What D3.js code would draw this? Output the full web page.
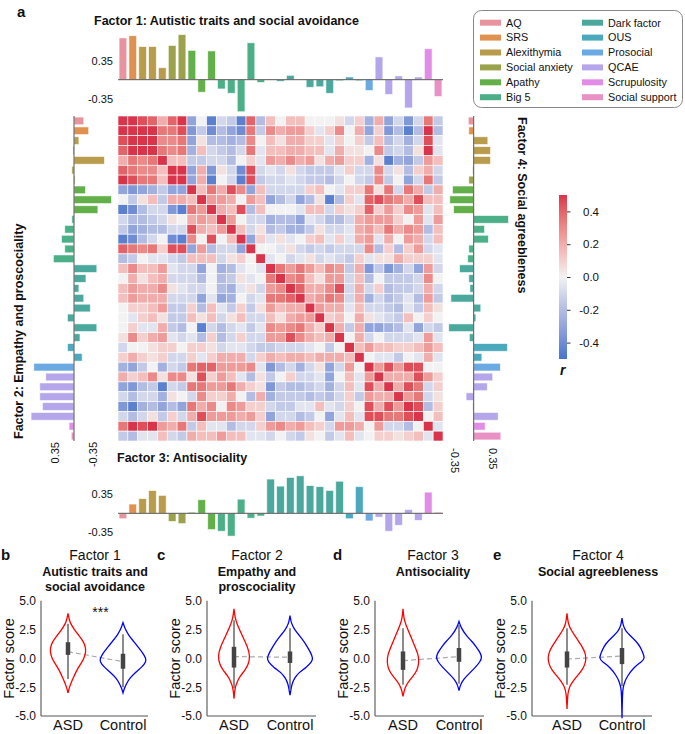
<!DOCTYPE html>
<html><head><meta charset="utf-8">
<script src="https://cdn.jsdelivr.net/npm/d3@7"></script>
<style>
body{margin:0;background:#fff}
svg{display:block}
text{font-family:"Liberation Sans",Arial,Helvetica,sans-serif;fill:#111}
</style>
</head><body>
<svg id="c" width="685" height="734"></svg>
<script>
// ---------------- DATA ----------------
const groups = ["AQ","SRS","Alexithymia","Social anxiety","Apathy","Big 5","Dark factor","OUS","Prosocial","QCAE","Scrupulosity","Social support"];
const groupSizes = [1,1,3,2,3,5,8,2,1,5,1,1];
const groupColors = ["#e8949f","#e0904f","#b89c4c","#9ca24b","#63b04a","#4baf88","#4aa99c","#4aa9bd","#6aa9e1","#b5a5ea","#e18ce6","#e991c4"];

const factor1 = [0.77,0.81,0.61,0.61,0.22,0.63,0.83,0.54,-0.23,0.53,-0.17,-0.25,-0.59,0.68,-0.05,0.01,-0.03,0.08,0.0,-0.14,-0.13,-0.25,-0.02,0.05,-0.02,-0.20,0.42,-0.27,0.07,-0.52,0.05,0.57,-0.31];
const factor2 = [-0.18,-0.27,-0.09,0.02,-0.56,0.04,-0.02,-0.21,-0.69,-0.44,0.04,0.17,0.23,0.17,0.38,-0.42,-0.22,-0.09,-0.18,-0.30,0.12,-0.42,-0.11,0.12,-0.15,0.74,0.52,0.63,0.63,0.58,0.79,0.09,0.05];
const factor3 = [-0.10,0.17,0.27,0.42,0.33,-0.15,-0.19,0.02,0.25,-0.30,-0.33,-0.42,0.26,-0.09,-0.05,0.63,0.50,0.66,0.69,0.51,0.49,0.42,0.59,-0.10,0.49,-0.14,-0.07,-0.33,-0.22,0.07,-0.13,0.39,0.02];
const factor4 = [-0.10,-0.09,0.26,0.31,0.31,-0.02,-0.09,-0.39,-0.44,-0.37,0.64,0.20,0.27,-0.09,-0.11,-0.26,-0.09,-0.07,-0.42,0.13,0.04,-0.46,-0.08,0.62,0.15,0.49,0.35,0.25,-0.14,-0.02,0.45,0.21,0.50];

// upper triangle of the correlation matrix, row i holds columns i+1..33
const corrUpper = [
 [0.5,0.45,0.4,0.2,0.4,0.5,-0.3,0,-0.45,-0.1,-0.15,-0.45,0.4,-0.2,0.15,0,0.15,0.15,0,0,0,0.05,-0.1,0.1,-0.25,0.2,-0.3,-0.1,-0.35,-0.1,0.35,-0.15],
 [0.5,0.5,0.35,0.35,0.45,-0.35,-0.15,-0.4,-0.2,-0.3,-0.4,0.35,-0.15,0.3,0.2,0.25,0.25,0.1,-0.05,0.1,0.3,0,0.2,-0.3,0.1,-0.35,-0.2,-0.45,-0.2,0.5,-0.2],
 [0.5,0.3,0.3,0.35,-0.3,0.05,-0.2,-0.2,-0.25,-0.2,0.3,0,0.15,0.05,0.2,0.2,0.1,0.1,-0.05,0.1,0,0.1,-0.15,0.15,-0.2,-0.1,-0.25,-0.1,0.45,-0.05],
 [0.35,0.3,0.35,-0.25,0.15,-0.1,-0.15,-0.2,-0.1,0.35,-0.05,0.15,0.15,0.2,0.2,0.15,0.15,-0.05,0.2,0.05,0.05,0,0.3,-0.15,-0.1,-0.2,0.05,0.5,-0.05],
 [0.15,0.15,-0.15,-0.15,-0.1,-0.1,-0.2,0,0.1,-0.05,0.25,0.2,0.3,0.2,0.25,0.05,0.2,0.25,0.1,0.1,-0.25,0.05,-0.45,-0.25,-0.3,-0.15,0.25,0.15],
 [0.5,-0.3,0.2,-0.35,0.05,-0.1,-0.4,0.45,-0.1,-0.05,-0.1,0.05,-0.1,-0.15,-0.15,-0.15,-0.05,0.1,-0.1,-0.1,0.3,-0.1,0.05,-0.2,0.1,0.2,-0.1],
 [-0.3,0.2,-0.45,0,-0.1,-0.45,0.45,-0.15,-0.1,-0.1,-0.05,-0.1,-0.15,-0.15,-0.2,-0.1,0,-0.1,-0.15,0.3,-0.15,0,-0.3,-0.1,0.35,-0.15],
 [0.15,0.35,0.2,0.45,0.3,-0.3,0.15,-0.1,-0.1,-0.1,-0.1,0.1,0.15,0,-0.05,0.1,0.1,0.35,0.05,0.35,-0.1,0.35,0.2,-0.15,0.2],
 [0.25,0.25,0.2,0,0.25,0.15,-0.3,-0.2,-0.1,-0.3,-0.2,0.05,-0.45,-0.2,0.1,-0.05,0.4,0.45,0.35,0.3,0.2,0.45,0.15,0.15],
 [0.2,0.15,0.45,-0.2,0.15,0,0,0,-0.05,0.15,0.15,-0.1,0.1,0.05,0.1,0.4,0.1,0.25,0.1,0.3,0.25,-0.05,0.15],
 [0.25,0,-0.1,-0.1,-0.25,-0.2,-0.2,-0.3,-0.05,-0.1,-0.2,-0.2,-0.1,0.2,0.25,0.25,0.25,0.1,0,0.25,-0.05,0.25],
 [0.15,-0.1,0.05,-0.2,-0.15,-0.25,-0.25,-0.15,0.05,-0.1,-0.1,-0.05,0.2,0.25,0.15,0.35,0.2,0.3,0.25,-0.2,0.15],
 [-0.3,0.1,-0.05,0.05,-0.05,0,0.1,0.15,-0.05,0.1,-0.05,0.2,0.25,-0.05,0.2,0,0.25,0.2,-0.1,0.15],
 [0,0,-0.05,0.05,-0.1,-0.15,-0.1,-0.15,-0.1,-0.1,-0.1,0.3,-0.2,0.1,-0.2,0.1,0.25,-0.1,-0.05],
 [-0.05,0,-0.1,-0.05,0.05,-0.1,-0.05,-0.1,-0.15,0.1,-0.05,0.05,0.05,0.2,0.1,0.1,0.1,-0.05],
 [0.35,0.25,0.35,0.25,0.15,0.3,0.25,-0.15,0.2,-0.35,-0.15,-0.35,-0.25,-0.1,-0.3,0.25,-0.1],
 [0.3,0.35,0.15,0.05,0.25,0.25,-0.1,0.15,-0.2,0,-0.15,-0.15,-0.15,-0.1,0.3,0],
 [0.4,0.2,0.2,0.3,0.45,-0.1,0.2,-0.1,0.1,-0.2,-0.15,-0.15,-0.1,0.2,-0.1],
 [0.2,0.25,0.35,0.3,-0.1,0.2,-0.25,-0.1,-0.2,-0.15,-0.05,-0.2,0.25,-0.15],
 [0.25,0.2,0.2,-0.05,0.15,-0.1,-0.1,-0.15,-0.2,-0.05,-0.15,0.15,0.05],
 [0.1,0.15,0,0.2,0.05,-0.05,-0.1,-0.15,0.15,0,0.1,0],
 [0.2,-0.15,0.2,-0.3,-0.3,-0.25,-0.2,-0.05,-0.3,-0.1,-0.15],
 [0,0.2,-0.1,0,-0.1,-0.1,-0.1,-0.05,0.25,-0.05],
 [0.15,0.25,0.15,0.15,0.1,0.1,0.15,0.25,0.15],
 [0,-0.05,-0.05,-0.15,0,-0.05,0.2,-0.05],
 [0.25,0.45,0.25,0.45,0.45,0,0],
 [0.2,0.2,0.2,0.45,0.25,0.1],
 [0.2,0.45,0.35,-0.1,0.1],
 [0.25,0.35,-0.1,0.05],
 [0.45,-0.2,0.1],
 [0,0.15],
 [-0.05]
];
const colorbarTicks = [0.4,0.2,0,-0.2,-0.4];
const barTicks = [0.35,-0.35];

// violin panels
const violinTitles = ["Factor 1","Factor 2","Factor 3","Factor 4"];
const violinSubtitles = [["Autistic traits and","social avoidance"],["Empathy and","proscociality"],["Antisociality"],["Social agreebleness"]];
const violinLetters = ["b","c","d","e"];
const violinSig = ["***","","",""];
const groupsVio = ["ASD","Control"];
const yTicksVio = [5.0,2.5,0.0,-2.5,-5.0];
// density profiles: [factor score, relative density]
const densityASD = [
 [[3.9,0],[3.3,0.08],[3.0,0.15],[2.5,0.35],[2.0,0.6],[1.5,0.85],[1.0,0.97],[0.6,1.0],[0.0,0.9],[-0.5,0.7],[-1.0,0.5],[-1.5,0.35],[-2.0,0.2],[-2.5,0.08],[-3.0,0]],
 [[4.3,0],[3.5,0.07],[3.0,0.18],[2.0,0.5],[1.0,0.85],[0.2,1.0],[-0.5,0.9],[-1.0,0.7],[-1.5,0.4],[-2.0,0.2],[-2.5,0.08],[-3.0,0.03],[-3.5,0]],
 [[4.3,0],[3.5,0.05],[3.0,0.15],[2.0,0.45],[1.0,0.75],[0.3,0.95],[-0.3,1.0],[-1.0,0.9],[-1.6,0.6],[-2.0,0.35],[-2.5,0.12],[-3.3,0]],
 [[3.9,0],[3.0,0.06],[2.5,0.2],[2.0,0.4],[1.5,0.6],[1.0,0.8],[0.5,0.95],[0.0,1.0],[-0.5,0.95],[-1.0,0.8],[-1.5,0.55],[-2.0,0.3],[-2.5,0.12],[-3.0,0.04],[-4.4,0]]
];
const densityControl = [
 [[3.1,0],[2.5,0.1],[2.0,0.25],[1.5,0.45],[1.0,0.65],[0.5,0.85],[0.0,1.0],[-0.3,1.0],[-0.7,0.85],[-1.2,0.55],[-1.7,0.3],[-2.2,0.15],[-2.6,0.06],[-3.0,0]],
 [[3.7,0],[3.0,0.06],[2.5,0.2],[2.0,0.4],[1.5,0.6],[1.0,0.75],[0.5,0.9],[0.0,1.0],[-0.3,0.95],[-0.8,0.7],[-1.2,0.4],[-1.7,0.2],[-2.2,0.08],[-3.2,0]],
 [[3.2,0],[2.7,0.08],[2.0,0.3],[1.5,0.55],[1.0,0.75],[0.5,0.92],[0.1,1.0],[-0.3,0.92],[-0.8,0.7],[-1.3,0.45],[-1.8,0.2],[-2.3,0.06],[-2.8,0]],
 [[3.5,0],[2.8,0.05],[2.3,0.18],[2.0,0.35],[1.5,0.6],[1.0,0.8],[0.5,0.9],[0.0,1.0],[-0.3,0.85],[-0.8,0.5],[-1.5,0.25],[-2.0,0.12],[-2.5,0.05],[-3.0,0.02],[-5.2,0]]
];
const peakASD = [0.78,0.70,0.70,0.83];
const peakControl = [1,1,1,1];
// box stats: [lower whisker, q1, q3, upper whisker]
const boxASD = [[-1.8,0.3,1.4,3.0],[-2.6,-0.8,1.0,3.3],[-2.3,-1.0,0.6,2.6],[-2.3,-0.8,0.6,2.6]];
const boxControl = [[-2.5,-0.9,0.4,2.1],[-2.8,-0.4,0.6,2.6],[-2.2,-0.3,0.9,2.9],[-2.4,-0.5,0.9,2.6]];
const meanASD = [0.58,0.15,-0.2,-0.06];
const meanControl = [-0.29,0.1,0.15,0.2];

// ---------------- LAYOUT ----------------
const svg = d3.select("#c");
const font = '"Liberation Sans",Arial,sans-serif';
const items = [];
groupSizes.forEach((n,g)=>{for(let k=0;k<n;k++) items.push(g);});
const N = items.length;
const corr = d3.range(N).map(i=>d3.range(N).map(j=> i===j?1:(i<j?corrUpper[i][j-i-1]:corrUpper[j][i-j-1])));

const HX0=118, HX1=443, HY0=116, HY1=441;
const colX = d3.scaleBand().domain(d3.range(N)).range([HX0,HX1]);
const rowY = d3.scaleBand().domain(d3.range(N)).range([HY0,HY1]);
const barX = d3.scaleBand().domain(d3.range(N)).range([HX0,HX1]).paddingInner(0.22).paddingOuter(0.11);
const barY = d3.scaleBand().domain(d3.range(N)).range([HY0,HY1]).paddingInner(0.22).paddingOuter(0.11);
const color = d3.scaleLinear().domain([-0.5,0,0.5]).range(["#4674cc","#f2f2f2","#d9344a"]).interpolate(d3.interpolateLab).clamp(true);
const U = 54.3; // px per loading unit
const barCol = i => groupColors[items[i]];

// panel letter a
svg.append("text").attr("x",17).attr("y",17).attr("font-size",15).attr("font-weight","bold").text("a");

// heatmap
svg.append("g").selectAll("g").data(corr).join("g")
  .each(function(row,i){
    d3.select(this).selectAll("rect").data(row).join("rect")
      .attr("x",(d,j)=>colX(j)).attr("y",rowY(i))
      .attr("width",colX.bandwidth()).attr("height",rowY.bandwidth())
      .attr("fill",d=>color(d)).attr("stroke","#fff").attr("stroke-width",0.6);
  });

// titles
svg.append("text").attr("x",94).attr("y",25).attr("font-size",12.5).attr("font-weight","bold").text("Factor 1: Autistic traits and social avoidance");
svg.append("text").attr("x",117).attr("y",462).attr("font-size",12.5).attr("font-weight","bold").text("Factor 3: Antisociality");
svg.append("text").attr("transform","translate(23,439) rotate(-90)").attr("font-size",12.5).attr("font-weight","bold").text("Factor 2: Empathy and proscociality");
svg.append("text").attr("transform","translate(518,117) rotate(90)").attr("font-size",12.5).attr("font-weight","bold").text("Factor 4: Social agreebleness");

const fmt = d => d3.format(".2f")(d).replace("−","-");

// vertical bar charts (top factor1, bottom factor3)
function vbars(values, base){
  const y = d3.scaleLinear().domain([-1,1]).range([base+U, base-U]);
  const g = svg.append("g");
  g.selectAll("rect").data(values).join("rect")
    .attr("x",(d,i)=>barX(i)).attr("width",barX.bandwidth())
    .attr("y",d=>Math.min(y(d),y(0))).attr("height",d=>Math.abs(y(d)-y(0)))
    .attr("fill",(d,i)=>barCol(i)).attr("stroke","rgba(255,255,255,0.7)").attr("stroke-width",0.8);
  g.append("line").attr("x1",HX0).attr("x2",HX1).attr("y1",y(0)).attr("y2",y(0)).attr("stroke","#555").attr("stroke-width",1);
  const ax = svg.append("g").attr("transform",`translate(${HX0-2},0)`)
    .call(d3.axisLeft(y).tickValues(barTicks).tickSize(0).tickPadding(3).tickFormat(fmt));
  ax.select(".domain").remove();
  ax.selectAll("text").attr("font-size",11).attr("font-family",font).attr("fill","#111");
}
vbars(factor1, 79.7);
vbars(factor3, 513.3);

// horizontal bar charts (left factor2: positive to the left; right factor4: positive to the right)
function hbars(values, base, dir, labelY, rot){
  const x = d3.scaleLinear().domain([-1,1]).range(dir>0?[base-U,base+U]:[base+U,base-U]);
  const g = svg.append("g");
  g.selectAll("rect").data(values).join("rect")
    .attr("y",(d,i)=>barY(i)).attr("height",barY.bandwidth())
    .attr("x",d=>Math.min(x(d),x(0))).attr("width",d=>Math.abs(x(d)-x(0)))
    .attr("fill",(d,i)=>barCol(i)).attr("stroke","rgba(255,255,255,0.7)").attr("stroke-width",0.8);
  g.append("line").attr("y1",HY0).attr("y2",HY1).attr("x1",x(0)).attr("x2",x(0)).attr("stroke","#555").attr("stroke-width",1);
  const ax = svg.append("g").attr("transform",`translate(0,${labelY})`)
    .call(d3.axisBottom(x).tickValues(barTicks).tickSize(0).tickFormat(fmt));
  ax.select(".domain").remove();
  ax.selectAll("text").attr("font-size",11).attr("font-family",font).attr("fill","#111")
    .attr("y",0).attr("x",0).attr("dy","0.35em")
    .attr("transform",`rotate(${rot})`).attr("text-anchor",rot<0?"end":"start");
}
hbars(factor2, 74, -1, 442, -90);
hbars(factor4, 473.7, 1, 448, 90);

// legend
const lg = svg.append("g");
lg.append("rect").attr("x",473.5).attr("y",10.5).attr("width",209).attr("height",97).attr("rx",8)
  .attr("fill","#fff").attr("stroke","#888").attr("stroke-width",1);
groups.forEach((name,k)=>{
  const col = Math.floor(k/6), r = k%6;
  const x0 = col===0?480:582, yc = 22.7 + r*14.9;
  lg.append("rect").attr("x",x0).attr("y",yc-3).attr("width",21).attr("height",6).attr("fill",groupColors[k]);
  lg.append("text").attr("x",x0+26).attr("y",yc).attr("dy","0.36em").attr("font-size",10.8).text(name);
});

// colorbar
const cbY = d3.scaleLinear().domain([-0.5,0.5]).range([359,195]);
const defs = svg.append("defs");
const grad = defs.append("linearGradient").attr("id","cb").attr("x1",0).attr("x2",0).attr("y1",1).attr("y2",0);
d3.range(0,1.0001,0.05).forEach(t=>grad.append("stop").attr("offset",t).attr("stop-color",color(-0.5+t)));
svg.append("rect").attr("x",559).attr("y",195).attr("width",8).attr("height",164).attr("fill","url(#cb)");
const cbAx = svg.append("g").attr("transform","translate(567,0)")
  .call(d3.axisRight(cbY).tickValues(colorbarTicks).tickSize(3.5).tickPadding(0).tickFormat(d=>d3.format(".1f")(d).replace("−","-")));
cbAx.select(".domain").remove();
cbAx.selectAll("line").attr("stroke","#333");
cbAx.selectAll("text").attr("font-size",11.5).attr("font-family",font).attr("fill","#111").attr("text-anchor","end").attr("x",32);
svg.append("text").attr("x",560).attr("y",375).attr("font-size",14).attr("font-style","italic").attr("font-weight","bold").text("r");

// ---------------- VIOLINS ----------------
const spineX = [41,207,375,532];
const axisEnd = [148,316,484,652];
const catPos = [[68,123],[234,290],[403,459],[567,622]];
const titleX = [95,257,433,598];
const letterX = [1,157,333,493];
const yV = d3.scaleLinear().domain([-5,5]).range([716,600.7]);
const W = 23;

violinTitles.forEach((t,p)=>{
  const g = svg.append("g");
  g.append("text").attr("x",letterX[p]).attr("y",560).attr("font-size",15).attr("font-weight","bold").text(violinLetters[p]);
  g.append("text").attr("x",titleX[p]).attr("y",560).attr("font-size",14).attr("text-anchor","middle").text(t);
  violinSubtitles[p].forEach((s,k)=>g.append("text").attr("x",titleX[p]).attr("y",576+k*15)
     .attr("font-size",12.5).attr("font-weight","bold").attr("text-anchor","middle").text(s));
  if(violinSig[p]) g.append("text").attr("x",(catPos[p][0]+catPos[p][1])/2+5).attr("y",617).attr("font-size",14).attr("text-anchor","middle").text(violinSig[p]);

  const x = d3.scalePoint().domain(groupsVio).range(catPos[p]);
  // axes
  const ay = g.append("g").attr("transform",`translate(${spineX[p]},0)`)
    .call(d3.axisLeft(yV).tickValues(yTicksVio).tickSize(0).tickPadding(5).tickFormat(d=>d3.format(".1f")(d).replace("−","-")));
  ay.select(".domain").remove();
  ay.selectAll("text").attr("font-size",12).attr("font-family",font).attr("fill","#111");
  g.append("line").attr("x1",spineX[p]).attr("x2",spineX[p]).attr("y1",yV(5)).attr("y2",yV(-5)).attr("stroke","#555").attr("stroke-width",1.1);
  g.append("line").attr("x1",spineX[p]).attr("x2",axisEnd[p]).attr("y1",yV(-5)).attr("y2",yV(-5)).attr("stroke","#555").attr("stroke-width",1.1);
  g.append("text").attr("transform",`translate(${spineX[p]-27},${yV(0)}) rotate(-90)`).attr("text-anchor","middle")
    .attr("font-size",14.5).text("Factor score");
  groupsVio.forEach(c=>g.append("text").attr("x",x(c)).attr("y",730).attr("font-size",14.5).attr("text-anchor","middle").text(c));

  // dashed mean line
  g.append("line").attr("x1",x("ASD")).attr("x2",x("Control")).attr("y1",yV(meanASD[p])).attr("y2",yV(meanControl[p]))
    .attr("stroke","#aaa").attr("stroke-width",1.2).attr("stroke-dasharray","5,3");

  [[densityASD[p],peakASD[p],boxASD[p],"ASD","#ff0000"],[densityControl[p],peakControl[p],boxControl[p],"Control","#0000ff"]]
  .forEach(([dens,peak,box,c,col])=>{
    const cx = x(c);
    const area = d3.area().curve(d3.curveBasis)
      .y(d=>yV(d[0])).x0(d=>cx-W*peak*d[1]).x1(d=>cx+W*peak*d[1]);
    g.append("path").attr("d",area(dens)).attr("fill","none").attr("stroke",col).attr("stroke-width",1.3);
    g.append("line").attr("x1",cx).attr("x2",cx).attr("y1",yV(box[0])).attr("y2",yV(box[3])).attr("stroke","#666").attr("stroke-width",1.5);
    g.append("line").attr("x1",cx).attr("x2",cx).attr("y1",yV(box[1])).attr("y2",yV(box[2])).attr("stroke","#444").attr("stroke-width",4.5);
  });
});
</script>
</body></html>
